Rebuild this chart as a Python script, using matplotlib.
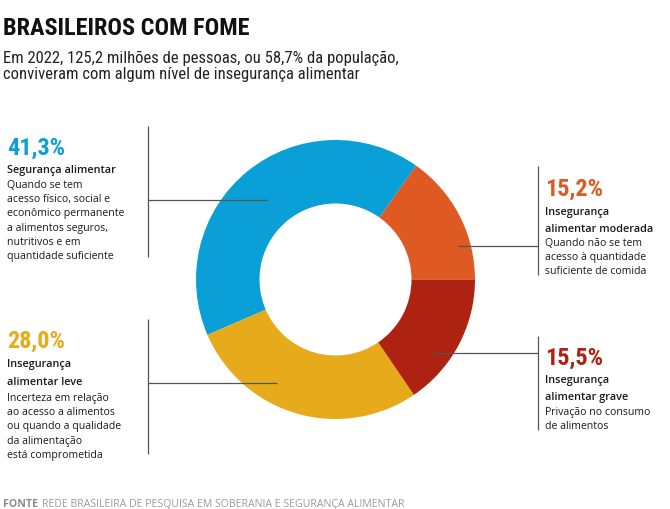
import matplotlib
matplotlib.use("Agg")

import matplotlib.pyplot as plt
from matplotlib import font_manager

#--------------------------------
# DATA
#--------------------------------
categories = ["Insegurança alimentar moderada", "Segurança alimentar",
              "Insegurança alimentar leve", "Insegurança alimentar grave"]
values = [15.2, 41.3, 28.0, 15.5]
pct_labels = ["15,2%", "41,3%", "28,0%", "15,5%"]
headers = ["Insegurança\nalimentar moderada", "Segurança alimentar",
           "Insegurança\nalimentar leve", "Insegurança\nalimentar grave"]
descriptions = [
    ["Quando não se tem", "acesso à quantidade", "suficiente de comida"],
    ["Quando se tem", "acesso físico, social e", "econômico permanente",
     "a alimentos seguros,", "nutritivos e em", "quantidade suficiente"],
    ["Incerteza em relação", "ao acesso a alimentos", "ou quando a qualidade",
     "da alimentação", "está comprometida"],
    ["Privação no consumo", "de alimentos"],
]
colors = ["#de5a22", "#0a9fd6", "#e6aa1a", "#ae2211"]

TITLE = "BRASILEIROS COM FOME"
SUBTITLE = ("Em 2022, 125,2 milhões de pessoas, ou 58,7% da população,\n"
            "conviveram com algum nível de insegurança alimentar")
SOURCE_KEY = "FONTE"
SOURCE = "REDE BRASILEIRA DE PESQUISA EM SOBERANIA E SEGURANÇA ALIMENTAR"

#--------------------------------
# FONTS
#--------------------------------
installed = {f.name for f in font_manager.fontManager.ttflist}

def pick(*names):
    for n in names:
        if n in installed:
            return n
    return "DejaVu Sans"

NARROW = pick("Liberation Sans Narrow", "DejaVu Sans Condensed", "Roboto Condensed", "Liberation Sans")
BODY = pick("Open Sans", "Noto Sans", "DejaVu Sans")

#--------------------------------
# LAYOUT (pixels, y measured from top)
#--------------------------------
W, H = 670, 510
CX, CY, R_OUT, R_IN = 335.5, 280.5, 139.5, 76

# per slice: text x, pct baseline, header baseline, header line gap,
# desc first baseline, leader vertical x, vertical y range, horizontal y, inner x end
blocks = [
    dict(x=545, pct=196, hdr=215, hgap=17, desc=246, vx=538, vy=(167, 276), hy=247, hx=458),
    dict(x=7, pct=155, hdr=173, hgap=17, desc=188, vx=148, vy=(127, 258), hy=201, hx=267),
    dict(x=7, pct=348, hdr=367, hgap=18, desc=401, vx=148, vy=(320, 455), hy=384, hx=277),
    dict(x=545, pct=365, hdr=383, hgap=17, desc=415, vx=538, vy=(337, 431), hy=354, hx=432),
]
DESC_GAP = 14.2

def fy(y):
    return H - y

fig = plt.figure(figsize=(W / 100, H / 100), dpi=100)
fig.patch.set_facecolor("white")
ax = fig.add_axes([0, 0, 1, 1])

ax.pie(values, colors=colors, startangle=0, counterclock=True,
       center=(CX, fy(CY)), radius=R_OUT, frame=True,
       wedgeprops=dict(width=R_OUT - R_IN, linewidth=0))
ax.set_xlim(0, W)
ax.set_ylim(0, H)
ax.set_aspect("equal")
ax.axis("off")

line_kw = dict(color="#555555", lw=0.9, solid_capstyle="butt")

for i, b in enumerate(blocks):
    # leader lines
    ax.plot([b["vx"], b["vx"]], [fy(b["vy"][0]), fy(b["vy"][1])], **line_kw)
    ax.plot([b["vx"], b["hx"]], [fy(b["hy"]), fy(b["hy"])], **line_kw)

    # percentage
    ax.text(b["x"], fy(b["pct"]), pct_labels[i], color=colors[i],
            family=NARROW, weight="bold", fontsize=17.5, va="baseline", ha="left")

    # header
    y = b["hdr"]
    for ln in headers[i].split("\n"):
        ax.text(b["x"], fy(y), ln, color="#1a1a1a", family=BODY, weight="semibold",
                fontsize=7.8, va="baseline", ha="left")
        y += b["hgap"]

    # description
    y = b["desc"]
    for ln in descriptions[i]:
        ax.text(b["x"], fy(y), ln, color="#1a1a1a", family=BODY,
                fontsize=7.6, va="baseline", ha="left")
        y += DESC_GAP

# title and subtitle
ax.text(3, fy(35), TITLE, color="#111111", family=NARROW, weight="bold",
        fontsize=17.5, va="baseline", ha="left")
sub = SUBTITLE.split("\n")
ax.text(3, fy(63), sub[0], color="#222222", family=NARROW, fontsize=12,
        va="baseline", ha="left")
ax.text(3, fy(79), sub[1], color="#222222", family=NARROW, fontsize=12,
        va="baseline", ha="left")

# source
ax.text(3, fy(507), SOURCE_KEY, color="#8a8a8a", family=BODY, weight="bold",
        fontsize=7.6, va="baseline", ha="left")
ax.text(42, fy(507), SOURCE, color="#9a9a9a", family=BODY,
        fontsize=7.6, va="baseline", ha="left")

fig.savefig("out.png", dpi=100)
